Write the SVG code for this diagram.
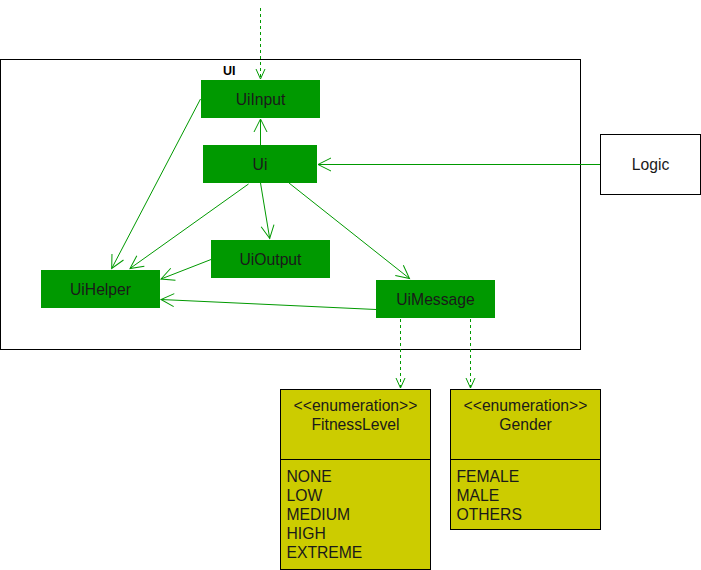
<svg xmlns="http://www.w3.org/2000/svg" width="701" height="570" viewBox="0 0 701 570">
  <style>
    .frame { fill: #ffffff; stroke: #000000; stroke-width: 1; }
    .cls { fill: #009900; stroke: none; }
    .enum { fill: #cccc00; stroke: #000000; stroke-width: 1; }
    .ext { fill: #ffffff; stroke: #000000; stroke-width: 1; }
    text { font-family: "Liberation Sans", Arial, sans-serif; font-size: 15.7px; fill: #1a1a1a; }
    .c { text-anchor: middle; }
    .title { font-weight: bold; font-size: 12.5px; fill: #000000; }
    .edge { fill: none; stroke: #009900; stroke-width: 1; }
    .dash { stroke-dasharray: 3 3; }
  </style>
  <defs>
    <marker id="open" markerUnits="userSpaceOnUse" markerWidth="16" markerHeight="16" viewBox="-14 -8 16 16" refX="0" refY="0" orient="auto" overflow="visible">
      <path d="M-13,-6.5 L0,0 L-13,6.5" fill="none" stroke="#009900" stroke-width="1"/>
    </marker>
    <marker id="openSmall" markerUnits="userSpaceOnUse" markerWidth="12" markerHeight="12" viewBox="-11 -6 12 12" refX="0" refY="0" orient="auto" overflow="visible">
      <path d="M-10,-4.5 L0,0 L-10,4.5" fill="none" stroke="#009900" stroke-width="1"/>
    </marker>
  </defs>

  <!-- UI package frame -->
  <g id="ui-package">
    <rect class="frame" x="0.5" y="59.5" width="580" height="290"/>
    <text class="title" x="223" y="75">UI</text>
  </g>

  <g id="UiInput">
    <rect class="cls" x="201" y="80" width="119" height="38"/>
    <text class="c" x="260.5" y="104.5">UiInput</text>
  </g>
  <g id="Ui">
    <rect class="cls" x="203" y="145" width="114" height="38"/>
    <text class="c" x="260" y="169.5">Ui</text>
  </g>
  <g id="UiOutput">
    <rect class="cls" x="211" y="240" width="119" height="38"/>
    <text class="c" x="270.5" y="264.5">UiOutput</text>
  </g>
  <g id="UiHelper">
    <rect class="cls" x="41" y="270" width="119" height="38"/>
    <text class="c" x="100.5" y="294.5">UiHelper</text>
  </g>
  <g id="UiMessage">
    <rect class="cls" x="376" y="280" width="119" height="38"/>
    <text class="c" x="435.5" y="304.5">UiMessage</text>
  </g>

  <g id="Logic">
    <rect class="ext" x="600.5" y="134.5" width="100" height="60"/>
    <text class="c" x="650.5" y="170">Logic</text>
  </g>

  <g id="FitnessLevel">
    <rect class="enum" x="280.5" y="389.5" width="150" height="180"/>
    <line x1="280.5" y1="459.5" x2="430.5" y2="459.5" stroke="#000000"/>
    <text class="c" x="355.5" y="411">&lt;&lt;enumeration&gt;&gt;</text>
    <text class="c" x="355.5" y="430">FitnessLevel</text>
    <text x="286.5" y="481.5">NONE</text>
    <text x="286.5" y="500.5">LOW</text>
    <text x="286.5" y="519.5">MEDIUM</text>
    <text x="286.5" y="538.5">HIGH</text>
    <text x="286.5" y="557.5">EXTREME</text>
  </g>

  <g id="Gender">
    <rect class="enum" x="450.5" y="389.5" width="150" height="140"/>
    <line x1="450.5" y1="459.5" x2="600.5" y2="459.5" stroke="#000000"/>
    <text class="c" x="525.5" y="411">&lt;&lt;enumeration&gt;&gt;</text>
    <text class="c" x="525.5" y="430">Gender</text>
    <text x="456.5" y="481.5">FEMALE</text>
    <text x="456.5" y="500.5">MALE</text>
    <text x="456.5" y="519.5">OTHERS</text>
  </g>

  <!-- connectors -->
  <g id="connectors">
    <line class="edge dash" x1="260.5" y1="8" x2="260.5" y2="79" marker-end="url(#openSmall)"/>
    <line class="edge" x1="260.5" y1="145" x2="260.5" y2="119" marker-end="url(#open)"/>
    <line class="edge" x1="600" y1="164.5" x2="318" y2="164.5" marker-end="url(#open)"/>
    <line class="edge" x1="200.5" y1="99" x2="111.7" y2="268.5" marker-end="url(#open)"/>
    <line class="edge" x1="248.5" y1="184" x2="130" y2="268.5" marker-end="url(#open)"/>
    <line class="edge" x1="260.5" y1="183" x2="269.7" y2="238.5" marker-end="url(#open)"/>
    <line class="edge" x1="211" y1="259.5" x2="161" y2="279" marker-end="url(#open)"/>
    <line class="edge" x1="376" y1="309.5" x2="161" y2="299.5" marker-end="url(#open)"/>
    <line class="edge" x1="289" y1="183" x2="409.5" y2="278.5" marker-end="url(#open)"/>
    <line class="edge dash" x1="400.5" y1="319" x2="400.5" y2="388" marker-end="url(#openSmall)"/>
    <line class="edge dash" x1="470.5" y1="319" x2="470.5" y2="388" marker-end="url(#openSmall)"/>
  </g>
</svg>
